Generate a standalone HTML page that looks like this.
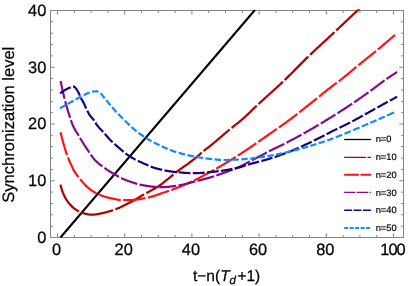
<!DOCTYPE html>
<html><head><meta charset="utf-8"><title>Synchronization level</title>
<style>
html,body{margin:0;padding:0;background:#fff;}
body{width:409px;height:286px;overflow:hidden;position:relative;font-family:"Liberation Sans",sans-serif;}
</style></head><body>
<svg width="409" height="286" viewBox="0 0 409 286" style="position:absolute;left:0;top:0;will-change:transform;text-rendering:geometricPrecision">
<defs><clipPath id="c"><rect x="50.0" y="9.3" width="354.0" height="228.7"/></clipPath></defs>
<g stroke="#848484" stroke-width="1" fill="none" shape-rendering="auto">
<rect x="50.5" y="10.5" width="353.0" height="227.0"/>
<path d="M57.50,237.5 v-4.2 M57.50,10.5 v4.2 M74.30,237.5 v-2.5 M74.30,10.5 v2.5 M91.10,237.5 v-2.5 M91.10,10.5 v2.5 M107.90,237.5 v-2.5 M107.90,10.5 v2.5 M124.70,237.5 v-4.2 M124.70,10.5 v4.2 M141.50,237.5 v-2.5 M141.50,10.5 v2.5 M158.30,237.5 v-2.5 M158.30,10.5 v2.5 M175.10,237.5 v-2.5 M175.10,10.5 v2.5 M191.90,237.5 v-4.2 M191.90,10.5 v4.2 M208.70,237.5 v-2.5 M208.70,10.5 v2.5 M225.50,237.5 v-2.5 M225.50,10.5 v2.5 M242.30,237.5 v-2.5 M242.30,10.5 v2.5 M259.10,237.5 v-4.2 M259.10,10.5 v4.2 M275.90,237.5 v-2.5 M275.90,10.5 v2.5 M292.70,237.5 v-2.5 M292.70,10.5 v2.5 M309.50,237.5 v-2.5 M309.50,10.5 v2.5 M326.30,237.5 v-4.2 M326.30,10.5 v4.2 M343.10,237.5 v-2.5 M343.10,10.5 v2.5 M359.90,237.5 v-2.5 M359.90,10.5 v2.5 M376.70,237.5 v-2.5 M376.70,10.5 v2.5 M393.50,237.5 v-4.2 M393.50,10.5 v4.2 M50.5,237.50 h4.2 M403.5,237.50 h-4.2 M50.5,226.15 h2.5 M403.5,226.15 h-2.5 M50.5,214.80 h2.5 M403.5,214.80 h-2.5 M50.5,203.45 h2.5 M403.5,203.45 h-2.5 M50.5,192.10 h2.5 M403.5,192.10 h-2.5 M50.5,180.75 h4.2 M403.5,180.75 h-4.2 M50.5,169.40 h2.5 M403.5,169.40 h-2.5 M50.5,158.05 h2.5 M403.5,158.05 h-2.5 M50.5,146.70 h2.5 M403.5,146.70 h-2.5 M50.5,135.35 h2.5 M403.5,135.35 h-2.5 M50.5,124.00 h4.2 M403.5,124.00 h-4.2 M50.5,112.65 h2.5 M403.5,112.65 h-2.5 M50.5,101.30 h2.5 M403.5,101.30 h-2.5 M50.5,89.95 h2.5 M403.5,89.95 h-2.5 M50.5,78.60 h2.5 M403.5,78.60 h-2.5 M50.5,67.25 h4.2 M403.5,67.25 h-4.2 M50.5,55.90 h2.5 M403.5,55.90 h-2.5 M50.5,44.55 h2.5 M403.5,44.55 h-2.5 M50.5,33.20 h2.5 M403.5,33.20 h-2.5 M50.5,21.85 h2.5 M403.5,21.85 h-2.5 M50.5,10.50 h4.2 M403.5,10.50 h-4.2" stroke="#868686" stroke-width="1"/>
</g>
<g clip-path="url(#c)" fill="none" stroke-width="2.2" stroke-linecap="butt" stroke-linejoin="round">
<path d="M60.5,237.5 L254.9,10" stroke="#000" stroke-width="2.1"/>
<path d="M60.4,184.6 L60.9,186.4 L61.4,188.2 L61.9,189.8 L62.4,191.3 L62.9,192.7 L63.4,193.9 L63.9,195.1 L64.4,196.1 L64.9,197.1 L65.4,198.1 L65.9,198.9 L66.4,199.7 L66.9,200.4 L67.4,201.1 L67.9,201.8 L68.4,202.5 L68.9,203.1 L69.4,203.7 L69.9,204.3 L70.4,204.9 L70.9,205.4 L71.4,205.9 L71.9,206.4 L72.4,206.9 L72.9,207.3 L73.4,207.8 L73.9,208.2 L74.4,208.6 L74.9,208.9 L75.4,209.3 L75.9,209.6 L76.4,210.0 L76.9,210.3 L77.4,210.6 L77.9,210.9 L78.4,211.2 L78.9,211.5 L79.4,211.8 L79.9,212.0 L80.4,212.2 L80.9,212.4 L81.4,212.6 L81.9,212.7 L82.4,212.9 L82.9,213.0 L83.4,213.2 L83.9,213.3 L84.4,213.5 L84.9,213.6 L85.4,213.7 L85.9,213.9 L86.4,214.0 L86.9,214.1 L87.4,214.2 L87.9,214.3 L88.4,214.4 L88.9,214.5 L89.4,214.5 L89.9,214.6 L90.4,214.6 L90.9,214.7 L91.4,214.7 L91.9,214.7 L92.4,214.7 L92.9,214.7 L93.4,214.7 L93.9,214.6 L94.4,214.6 L94.9,214.5 L95.4,214.5 L95.9,214.4 L96.4,214.3 L96.9,214.2 L97.4,214.1 L97.9,214.1 L98.4,214.0 L98.9,213.9 L99.4,213.8 L99.9,213.7 L100.4,213.5 L100.9,213.4 L101.4,213.3 L101.9,213.2 L102.4,213.1 L102.9,213.0 L103.4,212.9 L103.9,212.8 L104.4,212.7 L104.9,212.6 L105.4,212.5 L105.9,212.3 L106.4,212.2 L106.9,212.1 L107.4,211.9 L107.9,211.8 L108.4,211.6 L108.9,211.5 L109.4,211.3 L109.9,211.2 L110.4,211.0 L110.9,210.9 L111.4,210.7 L111.9,210.5 L112.4,210.4 L112.9,210.2 L113.4,210.0 L113.9,209.8 L114.4,209.7 L114.9,209.5 L115.4,209.3 L115.9,209.1 L116.4,208.9 L116.9,208.7 L117.4,208.5 L117.9,208.3 L118.4,208.1 L118.9,207.9 L119.4,207.7 L119.9,207.4 L120.4,207.2 L120.9,207.0 L121.4,206.8 L121.9,206.5 L122.4,206.3 L122.9,206.0 L123.4,205.8 L123.9,205.6 L124.4,205.3 L124.9,205.1 L125.4,204.8 L125.9,204.6 L126.4,204.3 L126.9,204.1 L127.4,203.8 L127.9,203.6 L128.4,203.3 L128.9,203.1 L129.4,202.8 L129.9,202.6 L130.4,202.3 L130.9,202.0 L131.4,201.8 L131.9,201.5 L132.4,201.2 L132.9,200.9 L133.4,200.7 L133.9,200.4 L134.4,200.1 L134.9,199.8 L135.4,199.5 L135.9,199.2 L136.4,198.9 L136.9,198.6 L137.4,198.3 L137.9,198.0 L138.4,197.7 L138.9,197.4 L139.4,197.1 L139.9,196.8 L140.4,196.5 L140.9,196.2 L141.4,195.9 L141.9,195.6 L142.4,195.3 L142.9,195.0 L143.4,194.7 L143.9,194.5 L144.4,194.2 L144.9,193.9 L145.4,193.6 L145.9,193.3 L146.4,193.1 L146.9,192.8 L147.4,192.5 L147.9,192.2 L148.4,192.0 L148.9,191.7 L149.4,191.4 L149.9,191.2 L150.4,190.9 L150.9,190.6 L151.4,190.4 L151.9,190.1 L152.4,189.8 L152.9,189.6 L153.4,189.3 L153.9,189.0 L154.4,188.7 L154.9,188.4 L155.4,188.2 L155.9,187.9 L156.4,187.6 L156.9,187.3 L157.4,186.9 L157.9,186.6 L158.4,186.3 L158.9,186.0 L159.4,185.6 L159.9,185.3 L160.4,184.9 L160.9,184.5 L161.4,184.2 L161.9,183.8 L162.4,183.4 L162.9,183.0 L163.4,182.6 L163.9,182.2 L164.4,181.8 L164.9,181.4 L165.4,181.0 L165.9,180.6 L166.4,180.2 L166.9,179.8 L167.4,179.4 L167.9,179.0 L168.4,178.6 L168.9,178.2 L169.4,177.8 L169.9,177.4 L170.4,177.0 L170.9,176.6 L171.4,176.2 L171.9,175.8 L172.4,175.4 L172.9,174.9 L173.4,174.5 L173.9,174.1 L174.4,173.7 L174.9,173.3 L175.4,172.9 L175.9,172.5 L176.4,172.1 L176.9,171.7 L177.4,171.3 L177.9,171.0 L178.4,170.6 L178.9,170.2 L179.4,169.8 L179.9,169.5 L180.4,169.1 L180.9,168.8 L181.4,168.4 L181.9,168.0 L182.4,167.7 L182.9,167.3 L183.4,167.0 L183.9,166.6 L184.4,166.3 L184.9,165.9 L185.4,165.6 L185.9,165.2 L186.4,164.9 L186.9,164.5 L187.4,164.2 L187.9,163.8 L188.4,163.4 L188.9,163.1 L189.4,162.7 L189.9,162.3 L190.4,162.0 L190.9,161.6 L191.4,161.2 L191.9,160.8 L192.4,160.5 L192.9,160.1 L193.4,159.7 L193.9,159.3 L194.4,158.9 L194.9,158.5 L195.4,158.1 L195.9,157.6 L196.4,157.2 L196.9,156.8 L197.4,156.4 L197.9,155.9 L198.4,155.5 L198.9,155.1 L199.4,154.6 L199.9,154.2 L200.4,153.8 L200.9,153.3 L201.4,152.9 L201.9,152.5 L202.4,152.1 L202.9,151.6 L203.4,151.2 L203.9,150.8 L204.4,150.4 L204.9,150.0 L205.4,149.6 L205.9,149.2 L206.4,148.8 L206.9,148.4 L207.4,148.1 L207.9,147.7 L208.4,147.3 L208.9,146.9 L209.4,146.5 L209.9,146.1 L210.4,145.7 L210.9,145.3 L211.4,144.9 L211.9,144.5 L212.4,144.1 L212.9,143.7 L213.4,143.3 L213.9,142.8 L214.4,142.4 L214.9,142.0 L215.4,141.6 L215.9,141.2 L216.4,140.8 L216.9,140.3 L217.4,139.9 L217.9,139.5 L218.4,139.1 L218.9,138.6 L219.4,138.2 L219.9,137.8 L220.4,137.3 L220.9,136.9 L221.4,136.5 L221.9,136.1 L222.4,135.6 L222.9,135.2 L223.4,134.8 L223.9,134.4 L224.4,133.9 L224.9,133.5 L225.4,133.1 L225.9,132.7 L226.4,132.2 L226.9,131.8 L227.4,131.4 L227.9,131.0 L228.4,130.5 L228.9,130.1 L229.4,129.7 L229.9,129.3 L230.4,128.9 L230.9,128.5 L231.4,128.1 L231.9,127.7 L232.4,127.3 L232.9,126.9 L233.4,126.5 L233.9,126.1 L234.4,125.7 L234.9,125.3 L235.4,124.9 L235.9,124.5 L236.4,124.1 L236.9,123.7 L237.4,123.4 L237.9,123.0 L238.4,122.6 L238.9,122.2 L239.4,121.8 L239.9,121.3 L240.4,120.9 L240.9,120.5 L241.4,120.1 L241.9,119.7 L242.4,119.2 L242.9,118.8 L243.4,118.3 L243.9,117.9 L244.4,117.4 L244.9,117.0 L245.4,116.5 L245.9,116.0 L246.4,115.6 L246.9,115.1 L247.4,114.6 L247.9,114.2 L248.4,113.7 L248.9,113.2 L249.4,112.7 L249.9,112.3 L250.4,111.8 L250.9,111.3 L251.4,110.8 L251.9,110.3 L252.4,109.8 L252.9,109.4 L253.4,108.9 L253.9,108.4 L254.4,107.9 L254.9,107.4 L255.4,107.0 L255.9,106.5 L256.4,106.0 L256.9,105.5 L257.4,105.1 L257.9,104.6 L258.4,104.1 L258.9,103.7 L259.4,103.2 L259.9,102.8 L260.4,102.3 L260.9,101.8 L261.4,101.4 L261.9,100.9 L262.4,100.5 L262.9,100.0 L263.4,99.6 L263.9,99.1 L264.4,98.6 L264.9,98.2 L265.4,97.7 L265.9,97.3 L266.4,96.8 L266.9,96.4 L267.4,95.9 L267.9,95.5 L268.4,95.0 L268.9,94.6 L269.4,94.1 L269.9,93.7 L270.4,93.2 L270.9,92.8 L271.4,92.3 L271.9,91.9 L272.4,91.4 L272.9,91.0 L273.4,90.5 L273.9,90.0 L274.4,89.6 L274.9,89.1 L275.4,88.7 L275.9,88.2 L276.4,87.8 L276.9,87.3 L277.4,86.9 L277.9,86.4 L278.4,85.9 L278.9,85.5 L279.4,85.0 L279.9,84.5 L280.4,84.1 L280.9,83.6 L281.4,83.1 L281.9,82.7 L282.4,82.2 L282.9,81.7 L283.4,81.3 L283.9,80.8 L284.4,80.3 L284.9,79.8 L285.4,79.4 L285.9,78.9 L286.4,78.4 L286.9,77.9 L287.4,77.4 L287.9,76.9 L288.4,76.4 L288.9,75.9 L289.4,75.4 L289.9,74.9 L290.4,74.5 L290.9,74.0 L291.4,73.5 L291.9,73.0 L292.4,72.5 L292.9,72.0 L293.4,71.5 L293.9,70.9 L294.4,70.4 L294.9,69.9 L295.4,69.4 L295.9,68.9 L296.4,68.4 L296.9,67.9 L297.4,67.4 L297.9,66.9 L298.4,66.4 L298.9,65.9 L299.4,65.4 L299.9,64.9 L300.4,64.4 L300.9,63.9 L301.4,63.4 L301.9,62.9 L302.4,62.4 L302.9,61.9 L303.4,61.4 L303.9,60.9 L304.4,60.4 L304.9,59.9 L305.4,59.4 L305.9,58.9 L306.4,58.4 L306.9,57.9 L307.4,57.4 L307.9,57.0 L308.4,56.5 L308.9,56.0 L309.4,55.5 L309.9,55.0 L310.4,54.5 L310.9,54.1 L311.4,53.6 L311.9,53.1 L312.4,52.6 L312.9,52.2 L313.4,51.7 L313.9,51.2 L314.4,50.8 L314.9,50.3 L315.4,49.8 L315.9,49.3 L316.4,48.9 L316.9,48.4 L317.4,47.9 L317.9,47.5 L318.4,47.0 L318.9,46.6 L319.4,46.1 L319.9,45.6 L320.4,45.2 L320.9,44.7 L321.4,44.2 L321.9,43.8 L322.4,43.3 L322.9,42.8 L323.4,42.4 L323.9,41.9 L324.4,41.5 L324.9,41.0 L325.4,40.5 L325.9,40.1 L326.4,39.6 L326.9,39.2 L327.4,38.7 L327.9,38.2 L328.4,37.8 L328.9,37.3 L329.4,36.9 L329.9,36.4 L330.4,35.9 L330.9,35.5 L331.4,35.0 L331.9,34.5 L332.4,34.1 L332.9,33.6 L333.4,33.1 L333.9,32.7 L334.4,32.2 L334.9,31.7 L335.4,31.3 L335.9,30.8 L336.4,30.3 L336.9,29.9 L337.4,29.4 L337.9,28.9 L338.4,28.5 L338.9,28.0 L339.4,27.5 L339.9,27.0 L340.4,26.6 L340.9,26.1 L341.4,25.6 L341.9,25.2 L342.4,24.7 L342.9,24.2 L343.4,23.7 L343.9,23.3 L344.4,22.8 L344.9,22.3 L345.4,21.9 L345.9,21.4 L346.4,20.9 L346.9,20.4 L347.4,20.0 L347.9,19.5 L348.4,19.0 L348.9,18.6 L349.4,18.1 L349.9,17.6 L350.4,17.1 L350.9,16.7 L351.4,16.2 L351.9,15.7 L352.4,15.2 L352.9,14.8 L353.4,14.3 L353.9,13.8 L354.4,13.3 L354.9,12.9 L355.4,12.4 L355.9,11.9 L356.4,11.5 L356.9,11.0 L357.4,10.5 L357.9,10.0 L358.4,9.6 L358.9,9.1 L359.4,8.7 L359.9,8.2" stroke="#b00000" stroke-dasharray="33.65 2.45 32.96 2.45 32.52 2.45 33.04 2.45 33.42 2.45 33.84 2.45 33.67 2.45 33.12 2.45 33.30 2.45 33.33 2.45 1000.00 0.00"/>
<path d="M60.6,132.3 L61.1,134.4 L61.6,136.5 L62.1,138.5 L62.6,140.4 L63.1,142.2 L63.6,144.0 L64.1,145.8 L64.6,147.5 L65.1,149.1 L65.6,150.7 L66.1,152.3 L66.6,153.8 L67.1,155.2 L67.6,156.6 L68.1,157.9 L68.6,159.1 L69.1,160.3 L69.6,161.4 L70.1,162.5 L70.6,163.6 L71.1,164.7 L71.6,165.7 L72.1,166.8 L72.6,167.9 L73.1,169.0 L73.6,170.0 L74.1,170.9 L74.6,171.7 L75.1,172.5 L75.6,173.2 L76.1,173.9 L76.6,174.6 L77.1,175.3 L77.6,175.9 L78.1,176.6 L78.6,177.2 L79.1,177.8 L79.6,178.4 L80.1,179.0 L80.6,179.7 L81.1,180.3 L81.6,180.9 L82.1,181.5 L82.6,182.1 L83.1,182.7 L83.6,183.2 L84.1,183.8 L84.6,184.3 L85.1,184.9 L85.6,185.4 L86.1,185.9 L86.6,186.4 L87.1,186.9 L87.6,187.3 L88.1,187.7 L88.6,188.1 L89.1,188.5 L89.6,188.9 L90.1,189.3 L90.6,189.7 L91.1,190.0 L91.6,190.4 L92.1,190.7 L92.6,191.1 L93.1,191.4 L93.6,191.7 L94.1,192.0 L94.6,192.3 L95.1,192.6 L95.6,192.9 L96.1,193.2 L96.6,193.4 L97.1,193.7 L97.6,193.9 L98.1,194.1 L98.6,194.4 L99.1,194.6 L99.6,194.8 L100.1,195.0 L100.6,195.2 L101.1,195.4 L101.6,195.6 L102.1,195.8 L102.6,195.9 L103.1,196.1 L103.6,196.3 L104.1,196.5 L104.6,196.6 L105.1,196.8 L105.6,196.9 L106.1,197.1 L106.6,197.2 L107.1,197.3 L107.6,197.5 L108.1,197.6 L108.6,197.7 L109.1,197.9 L109.6,198.0 L110.1,198.1 L110.6,198.2 L111.1,198.3 L111.6,198.4 L112.1,198.5 L112.6,198.6 L113.1,198.7 L113.6,198.8 L114.1,198.9 L114.6,199.0 L115.1,199.1 L115.6,199.2 L116.1,199.3 L116.6,199.4 L117.1,199.5 L117.6,199.6 L118.1,199.7 L118.6,199.9 L119.1,200.0 L119.6,200.0 L120.1,200.1 L120.6,200.2 L121.1,200.2 L121.6,200.2 L122.1,200.2 L122.6,200.2 L123.1,200.2 L123.6,200.2 L124.1,200.2 L124.6,200.2 L125.1,200.2 L125.6,200.2 L126.1,200.2 L126.6,200.2 L127.1,200.2 L127.6,200.1 L128.1,200.1 L128.6,200.1 L129.1,200.1 L129.6,200.1 L130.1,200.1 L130.6,200.1 L131.1,200.1 L131.6,200.0 L132.1,200.0 L132.6,200.0 L133.1,199.9 L133.6,199.9 L134.1,199.9 L134.6,199.8 L135.1,199.7 L135.6,199.7 L136.1,199.6 L136.6,199.6 L137.1,199.5 L137.6,199.4 L138.1,199.4 L138.6,199.3 L139.1,199.2 L139.6,199.1 L140.1,199.0 L140.6,198.9 L141.1,198.9 L141.6,198.8 L142.1,198.7 L142.6,198.6 L143.1,198.5 L143.6,198.4 L144.1,198.3 L144.6,198.2 L145.1,198.1 L145.6,198.0 L146.1,197.9 L146.6,197.8 L147.1,197.7 L147.6,197.6 L148.1,197.5 L148.6,197.4 L149.1,197.3 L149.6,197.2 L150.1,197.0 L150.6,196.9 L151.1,196.8 L151.6,196.6 L152.1,196.5 L152.6,196.3 L153.1,196.2 L153.6,196.0 L154.1,195.9 L154.6,195.7 L155.1,195.5 L155.6,195.4 L156.1,195.2 L156.6,195.0 L157.1,194.9 L157.6,194.7 L158.1,194.5 L158.6,194.3 L159.1,194.2 L159.6,194.0 L160.1,193.8 L160.6,193.6 L161.1,193.5 L161.6,193.3 L162.1,193.1 L162.6,192.9 L163.1,192.8 L163.6,192.6 L164.1,192.4 L164.6,192.3 L165.1,192.1 L165.6,191.9 L166.1,191.8 L166.6,191.6 L167.1,191.4 L167.6,191.3 L168.1,191.1 L168.6,190.9 L169.1,190.7 L169.6,190.6 L170.1,190.4 L170.6,190.2 L171.1,190.0 L171.6,189.9 L172.1,189.7 L172.6,189.5 L173.1,189.3 L173.6,189.1 L174.1,189.0 L174.6,188.8 L175.1,188.6 L175.6,188.4 L176.1,188.2 L176.6,188.0 L177.1,187.8 L177.6,187.6 L178.1,187.4 L178.6,187.3 L179.1,187.1 L179.6,186.9 L180.1,186.7 L180.6,186.5 L181.1,186.3 L181.6,186.0 L182.1,185.8 L182.6,185.6 L183.1,185.4 L183.6,185.2 L184.1,185.0 L184.6,184.8 L185.1,184.6 L185.6,184.3 L186.1,184.1 L186.6,183.9 L187.1,183.7 L187.6,183.4 L188.1,183.2 L188.6,183.0 L189.1,182.7 L189.6,182.5 L190.1,182.3 L190.6,182.1 L191.1,181.8 L191.6,181.6 L192.1,181.3 L192.6,181.1 L193.1,180.9 L193.6,180.6 L194.1,180.4 L194.6,180.1 L195.1,179.9 L195.6,179.7 L196.1,179.4 L196.6,179.2 L197.1,178.9 L197.6,178.7 L198.1,178.4 L198.6,178.2 L199.1,177.9 L199.6,177.7 L200.1,177.4 L200.6,177.1 L201.1,176.9 L201.6,176.6 L202.1,176.4 L202.6,176.1 L203.1,175.8 L203.6,175.6 L204.1,175.3 L204.6,175.0 L205.1,174.8 L205.6,174.5 L206.1,174.2 L206.6,174.0 L207.1,173.7 L207.6,173.4 L208.1,173.1 L208.6,172.9 L209.1,172.6 L209.6,172.3 L210.1,172.1 L210.6,171.8 L211.1,171.5 L211.6,171.2 L212.1,171.0 L212.6,170.7 L213.1,170.4 L213.6,170.1 L214.1,169.9 L214.6,169.6 L215.1,169.3 L215.6,169.0 L216.1,168.8 L216.6,168.5 L217.1,168.2 L217.6,167.9 L218.1,167.6 L218.6,167.3 L219.1,167.1 L219.6,166.8 L220.1,166.5 L220.6,166.2 L221.1,165.9 L221.6,165.6 L222.1,165.3 L222.6,165.0 L223.1,164.7 L223.6,164.4 L224.1,164.1 L224.6,163.8 L225.1,163.5 L225.6,163.2 L226.1,162.9 L226.6,162.6 L227.1,162.3 L227.6,162.0 L228.1,161.7 L228.6,161.4 L229.1,161.1 L229.6,160.8 L230.1,160.5 L230.6,160.2 L231.1,159.9 L231.6,159.6 L232.1,159.2 L232.6,158.9 L233.1,158.6 L233.6,158.3 L234.1,158.0 L234.6,157.7 L235.1,157.3 L235.6,157.0 L236.1,156.7 L236.6,156.4 L237.1,156.1 L237.6,155.7 L238.1,155.4 L238.6,155.1 L239.1,154.8 L239.6,154.5 L240.1,154.1 L240.6,153.8 L241.1,153.5 L241.6,153.2 L242.1,152.8 L242.6,152.5 L243.1,152.2 L243.6,151.8 L244.1,151.5 L244.6,151.2 L245.1,150.9 L245.6,150.5 L246.1,150.2 L246.6,149.8 L247.1,149.5 L247.6,149.2 L248.1,148.8 L248.6,148.5 L249.1,148.2 L249.6,147.8 L250.1,147.5 L250.6,147.2 L251.1,146.8 L251.6,146.5 L252.1,146.1 L252.6,145.8 L253.1,145.5 L253.6,145.1 L254.1,144.8 L254.6,144.4 L255.1,144.1 L255.6,143.7 L256.1,143.4 L256.6,143.1 L257.1,142.7 L257.6,142.4 L258.1,142.0 L258.6,141.7 L259.1,141.3 L259.6,141.0 L260.1,140.6 L260.6,140.3 L261.1,139.9 L261.6,139.6 L262.1,139.2 L262.6,138.9 L263.1,138.5 L263.6,138.2 L264.1,137.8 L264.6,137.5 L265.1,137.1 L265.6,136.8 L266.1,136.4 L266.6,136.1 L267.1,135.7 L267.6,135.4 L268.1,135.0 L268.6,134.7 L269.1,134.3 L269.6,134.0 L270.1,133.6 L270.6,133.3 L271.1,132.9 L271.6,132.6 L272.1,132.2 L272.6,131.9 L273.1,131.5 L273.6,131.2 L274.1,130.8 L274.6,130.5 L275.1,130.1 L275.6,129.8 L276.1,129.4 L276.6,129.1 L277.1,128.7 L277.6,128.4 L278.1,128.0 L278.6,127.7 L279.1,127.3 L279.6,127.0 L280.1,126.6 L280.6,126.3 L281.1,125.9 L281.6,125.6 L282.1,125.2 L282.6,124.9 L283.1,124.5 L283.6,124.1 L284.1,123.8 L284.6,123.4 L285.1,123.1 L285.6,122.7 L286.1,122.4 L286.6,122.0 L287.1,121.6 L287.6,121.3 L288.1,120.9 L288.6,120.5 L289.1,120.2 L289.6,119.8 L290.1,119.4 L290.6,119.1 L291.1,118.7 L291.6,118.3 L292.1,117.9 L292.6,117.5 L293.1,117.2 L293.6,116.8 L294.1,116.4 L294.6,116.0 L295.1,115.6 L295.6,115.2 L296.1,114.9 L296.6,114.5 L297.1,114.1 L297.6,113.7 L298.1,113.3 L298.6,112.9 L299.1,112.5 L299.6,112.1 L300.1,111.7 L300.6,111.3 L301.1,110.9 L301.6,110.6 L302.1,110.2 L302.6,109.8 L303.1,109.4 L303.6,109.0 L304.1,108.6 L304.6,108.2 L305.1,107.8 L305.6,107.4 L306.1,107.0 L306.6,106.6 L307.1,106.2 L307.6,105.8 L308.1,105.4 L308.6,105.0 L309.1,104.6 L309.6,104.2 L310.1,103.8 L310.6,103.4 L311.1,103.0 L311.6,102.6 L312.1,102.2 L312.6,101.8 L313.1,101.4 L313.6,101.0 L314.1,100.6 L314.6,100.2 L315.1,99.8 L315.6,99.4 L316.1,99.0 L316.6,98.6 L317.1,98.2 L317.6,97.8 L318.1,97.4 L318.6,97.0 L319.1,96.6 L319.6,96.2 L320.1,95.8 L320.6,95.4 L321.1,95.0 L321.6,94.6 L322.1,94.1 L322.6,93.7 L323.1,93.3 L323.6,92.9 L324.1,92.5 L324.6,92.1 L325.1,91.7 L325.6,91.3 L326.1,90.9 L326.6,90.5 L327.1,90.1 L327.6,89.7 L328.1,89.3 L328.6,88.9 L329.1,88.5 L329.6,88.2 L330.1,87.8 L330.6,87.4 L331.1,87.0 L331.6,86.6 L332.1,86.2 L332.6,85.8 L333.1,85.5 L333.6,85.1 L334.1,84.7 L334.6,84.4 L335.1,84.0 L335.6,83.6 L336.1,83.3 L336.6,82.9 L337.1,82.5 L337.6,82.2 L338.1,81.8 L338.6,81.4 L339.1,81.1 L339.6,80.7 L340.1,80.3 L340.6,79.9 L341.1,79.5 L341.6,79.1 L342.1,78.7 L342.6,78.3 L343.1,77.9 L343.6,77.5 L344.1,77.1 L344.6,76.7 L345.1,76.3 L345.6,75.9 L346.1,75.5 L346.6,75.1 L347.1,74.7 L347.6,74.2 L348.1,73.8 L348.6,73.4 L349.1,73.0 L349.6,72.6 L350.1,72.1 L350.6,71.7 L351.1,71.3 L351.6,70.9 L352.1,70.5 L352.6,70.0 L353.1,69.6 L353.6,69.2 L354.1,68.8 L354.6,68.3 L355.1,67.9 L355.6,67.5 L356.1,67.1 L356.6,66.7 L357.1,66.3 L357.6,65.9 L358.1,65.4 L358.6,65.0 L359.1,64.6 L359.6,64.2 L360.1,63.8 L360.6,63.4 L361.1,63.0 L361.6,62.6 L362.1,62.2 L362.6,61.8 L363.1,61.4 L363.6,61.0 L364.1,60.6 L364.6,60.2 L365.1,59.8 L365.6,59.4 L366.1,59.0 L366.6,58.6 L367.1,58.2 L367.6,57.8 L368.1,57.4 L368.6,57.0 L369.1,56.6 L369.6,56.2 L370.1,55.8 L370.6,55.4 L371.1,55.0 L371.6,54.6 L372.1,54.2 L372.6,53.8 L373.1,53.4 L373.6,53.0 L374.1,52.6 L374.6,52.2 L375.1,51.8 L375.6,51.4 L376.1,51.0 L376.6,50.6 L377.1,50.2 L377.6,49.8 L378.1,49.3 L378.6,48.9 L379.1,48.5 L379.6,48.1 L380.1,47.7 L380.6,47.2 L381.1,46.8 L381.6,46.4 L382.1,46.0 L382.6,45.6 L383.1,45.1 L383.6,44.7 L384.1,44.3 L384.6,43.8 L385.1,43.4 L385.6,43.0 L386.1,42.6 L386.6,42.1 L387.1,41.7 L387.6,41.3 L388.1,40.8 L388.6,40.4 L389.1,40.0 L389.6,39.6 L390.1,39.1 L390.6,38.7 L391.1,38.3 L391.6,37.8 L392.1,37.4 L392.6,37.0 L393.1,36.5 L393.6,36.1 L394.1,35.7 L394.6,35.3 L395.1,34.8 L395.6,34.4 L396.1,34.0 L396.6,33.5" stroke="#ff1414" stroke-dasharray="23.60 2.45 22.69 2.45 22.37 2.45 22.44 2.45 22.51 2.45 22.24 2.45 22.35 2.45 22.71 2.45 22.69 2.45 22.44 2.45 22.71 2.45 22.91 2.45 22.72 2.45 22.67 2.45 22.83 2.45 22.72 2.45 22.56 2.45 1000.00 0.00"/>
<path d="M60.6,81.0 L61.1,83.5 L61.6,85.8 L62.1,88.2 L62.6,90.5 L63.1,92.7 L63.6,94.8 L64.1,96.9 L64.6,98.9 L65.1,100.9 L65.6,102.7 L66.1,104.6 L66.6,106.3 L67.1,108.0 L67.6,109.7 L68.1,111.4 L68.6,113.0 L69.1,114.6 L69.6,116.2 L70.1,117.8 L70.6,119.3 L71.1,120.8 L71.6,122.2 L72.1,123.6 L72.6,124.8 L73.1,125.9 L73.6,126.9 L74.1,127.9 L74.6,128.9 L75.1,129.8 L75.6,130.6 L76.1,131.5 L76.6,132.3 L77.1,133.1 L77.6,133.9 L78.1,134.7 L78.6,135.5 L79.1,136.4 L79.6,137.2 L80.1,138.0 L80.6,138.9 L81.1,139.7 L81.6,140.5 L82.1,141.3 L82.6,142.1 L83.1,143.0 L83.6,143.8 L84.1,144.6 L84.6,145.3 L85.1,146.1 L85.6,146.9 L86.1,147.7 L86.6,148.5 L87.1,149.2 L87.6,150.0 L88.1,150.7 L88.6,151.4 L89.1,152.2 L89.6,152.9 L90.1,153.6 L90.6,154.3 L91.1,155.1 L91.6,155.8 L92.1,156.5 L92.6,157.2 L93.1,157.9 L93.6,158.5 L94.1,159.1 L94.6,159.7 L95.1,160.2 L95.6,160.7 L96.1,161.2 L96.6,161.7 L97.1,162.1 L97.6,162.6 L98.1,163.0 L98.6,163.4 L99.1,163.9 L99.6,164.3 L100.1,164.7 L100.6,165.0 L101.1,165.4 L101.6,165.8 L102.1,166.2 L102.6,166.5 L103.1,166.9 L103.6,167.3 L104.1,167.6 L104.6,168.0 L105.1,168.3 L105.6,168.7 L106.1,169.0 L106.6,169.4 L107.1,169.7 L107.6,170.1 L108.1,170.4 L108.6,170.7 L109.1,171.0 L109.6,171.4 L110.1,171.7 L110.6,172.0 L111.1,172.3 L111.6,172.6 L112.1,172.9 L112.6,173.2 L113.1,173.5 L113.6,173.8 L114.1,174.1 L114.6,174.4 L115.1,174.7 L115.6,175.0 L116.1,175.3 L116.6,175.5 L117.1,175.8 L117.6,176.1 L118.1,176.4 L118.6,176.7 L119.1,176.9 L119.6,177.2 L120.1,177.5 L120.6,177.7 L121.1,178.0 L121.6,178.2 L122.1,178.5 L122.6,178.7 L123.1,178.9 L123.6,179.1 L124.1,179.4 L124.6,179.6 L125.1,179.8 L125.6,180.0 L126.1,180.2 L126.6,180.4 L127.1,180.6 L127.6,180.8 L128.1,180.9 L128.6,181.1 L129.1,181.3 L129.6,181.5 L130.1,181.6 L130.6,181.8 L131.1,182.0 L131.6,182.1 L132.1,182.3 L132.6,182.5 L133.1,182.6 L133.6,182.8 L134.1,183.0 L134.6,183.1 L135.1,183.3 L135.6,183.5 L136.1,183.6 L136.6,183.8 L137.1,183.9 L137.6,184.1 L138.1,184.2 L138.6,184.3 L139.1,184.5 L139.6,184.6 L140.1,184.7 L140.6,184.8 L141.1,184.9 L141.6,185.0 L142.1,185.1 L142.6,185.2 L143.1,185.3 L143.6,185.4 L144.1,185.4 L144.6,185.5 L145.1,185.6 L145.6,185.7 L146.1,185.8 L146.6,185.8 L147.1,185.9 L147.6,186.0 L148.1,186.1 L148.6,186.1 L149.1,186.2 L149.6,186.3 L150.1,186.3 L150.6,186.4 L151.1,186.5 L151.6,186.5 L152.1,186.6 L152.6,186.6 L153.1,186.7 L153.6,186.8 L154.1,186.8 L154.6,186.8 L155.1,186.9 L155.6,186.9 L156.1,187.0 L156.6,187.0 L157.1,187.1 L157.6,187.1 L158.1,187.1 L158.6,187.1 L159.1,187.2 L159.6,187.2 L160.1,187.2 L160.6,187.2 L161.1,187.2 L161.6,187.2 L162.1,187.2 L162.6,187.2 L163.1,187.2 L163.6,187.2 L164.1,187.1 L164.6,187.1 L165.1,187.1 L165.6,187.1 L166.1,187.0 L166.6,187.0 L167.1,186.9 L167.6,186.9 L168.1,186.9 L168.6,186.8 L169.1,186.7 L169.6,186.7 L170.1,186.6 L170.6,186.6 L171.1,186.5 L171.6,186.4 L172.1,186.4 L172.6,186.3 L173.1,186.2 L173.6,186.2 L174.1,186.1 L174.6,186.0 L175.1,186.0 L175.6,185.9 L176.1,185.8 L176.6,185.7 L177.1,185.6 L177.6,185.6 L178.1,185.5 L178.6,185.4 L179.1,185.3 L179.6,185.3 L180.1,185.2 L180.6,185.1 L181.1,185.0 L181.6,184.9 L182.1,184.8 L182.6,184.7 L183.1,184.6 L183.6,184.5 L184.1,184.4 L184.6,184.3 L185.1,184.1 L185.6,184.0 L186.1,183.9 L186.6,183.7 L187.1,183.6 L187.6,183.5 L188.1,183.3 L188.6,183.2 L189.1,183.0 L189.6,182.9 L190.1,182.8 L190.6,182.6 L191.1,182.5 L191.6,182.3 L192.1,182.2 L192.6,182.1 L193.1,181.9 L193.6,181.8 L194.1,181.7 L194.6,181.5 L195.1,181.4 L195.6,181.3 L196.1,181.1 L196.6,181.0 L197.1,180.9 L197.6,180.8 L198.1,180.6 L198.6,180.5 L199.1,180.4 L199.6,180.3 L200.1,180.1 L200.6,180.0 L201.1,179.9 L201.6,179.8 L202.1,179.6 L202.6,179.5 L203.1,179.4 L203.6,179.3 L204.1,179.1 L204.6,179.0 L205.1,178.9 L205.6,178.7 L206.1,178.6 L206.6,178.5 L207.1,178.3 L207.6,178.2 L208.1,178.0 L208.6,177.9 L209.1,177.8 L209.6,177.6 L210.1,177.5 L210.6,177.3 L211.1,177.2 L211.6,177.0 L212.1,176.9 L212.6,176.7 L213.1,176.5 L213.6,176.4 L214.1,176.2 L214.6,176.1 L215.1,175.9 L215.6,175.7 L216.1,175.6 L216.6,175.4 L217.1,175.2 L217.6,175.0 L218.1,174.9 L218.6,174.7 L219.1,174.5 L219.6,174.4 L220.1,174.2 L220.6,174.0 L221.1,173.8 L221.6,173.7 L222.1,173.5 L222.6,173.3 L223.1,173.1 L223.6,172.9 L224.1,172.8 L224.6,172.6 L225.1,172.4 L225.6,172.2 L226.1,172.0 L226.6,171.9 L227.1,171.7 L227.6,171.5 L228.1,171.3 L228.6,171.1 L229.1,171.0 L229.6,170.8 L230.1,170.6 L230.6,170.4 L231.1,170.2 L231.6,170.0 L232.1,169.9 L232.6,169.7 L233.1,169.5 L233.6,169.3 L234.1,169.1 L234.6,168.9 L235.1,168.7 L235.6,168.5 L236.1,168.3 L236.6,168.1 L237.1,167.9 L237.6,167.7 L238.1,167.4 L238.6,167.2 L239.1,167.0 L239.6,166.8 L240.1,166.6 L240.6,166.3 L241.1,166.1 L241.6,165.8 L242.1,165.6 L242.6,165.3 L243.1,165.1 L243.6,164.8 L244.1,164.5 L244.6,164.2 L245.1,164.0 L245.6,163.7 L246.1,163.4 L246.6,163.1 L247.1,162.9 L247.6,162.6 L248.1,162.3 L248.6,162.1 L249.1,161.8 L249.6,161.6 L250.1,161.3 L250.6,161.0 L251.1,160.8 L251.6,160.5 L252.1,160.2 L252.6,160.0 L253.1,159.7 L253.6,159.4 L254.1,159.2 L254.6,158.9 L255.1,158.7 L255.6,158.4 L256.1,158.1 L256.6,157.9 L257.1,157.6 L257.6,157.3 L258.1,157.1 L258.6,156.8 L259.1,156.5 L259.6,156.3 L260.1,156.0 L260.6,155.8 L261.1,155.5 L261.6,155.2 L262.1,155.0 L262.6,154.7 L263.1,154.4 L263.6,154.2 L264.1,153.9 L264.6,153.7 L265.1,153.4 L265.6,153.1 L266.1,152.9 L266.6,152.6 L267.1,152.4 L267.6,152.1 L268.1,151.9 L268.6,151.6 L269.1,151.3 L269.6,151.1 L270.1,150.8 L270.6,150.6 L271.1,150.3 L271.6,150.1 L272.1,149.8 L272.6,149.6 L273.1,149.3 L273.6,149.1 L274.1,148.8 L274.6,148.6 L275.1,148.3 L275.6,148.1 L276.1,147.9 L276.6,147.6 L277.1,147.4 L277.6,147.1 L278.1,146.9 L278.6,146.6 L279.1,146.4 L279.6,146.1 L280.1,145.9 L280.6,145.6 L281.1,145.4 L281.6,145.2 L282.1,144.9 L282.6,144.7 L283.1,144.4 L283.6,144.2 L284.1,143.9 L284.6,143.7 L285.1,143.4 L285.6,143.2 L286.1,142.9 L286.6,142.7 L287.1,142.4 L287.6,142.1 L288.1,141.9 L288.6,141.6 L289.1,141.4 L289.6,141.1 L290.1,140.8 L290.6,140.6 L291.1,140.3 L291.6,140.1 L292.1,139.8 L292.6,139.5 L293.1,139.3 L293.6,139.0 L294.1,138.7 L294.6,138.4 L295.1,138.2 L295.6,137.9 L296.1,137.6 L296.6,137.4 L297.1,137.1 L297.6,136.8 L298.1,136.5 L298.6,136.3 L299.1,136.0 L299.6,135.7 L300.1,135.4 L300.6,135.2 L301.1,134.9 L301.6,134.6 L302.1,134.3 L302.6,134.1 L303.1,133.8 L303.6,133.5 L304.1,133.2 L304.6,132.9 L305.1,132.7 L305.6,132.4 L306.1,132.1 L306.6,131.8 L307.1,131.5 L307.6,131.2 L308.1,131.0 L308.6,130.7 L309.1,130.4 L309.6,130.1 L310.1,129.8 L310.6,129.5 L311.1,129.2 L311.6,129.0 L312.1,128.7 L312.6,128.4 L313.1,128.1 L313.6,127.8 L314.1,127.5 L314.6,127.2 L315.1,126.9 L315.6,126.6 L316.1,126.3 L316.6,126.0 L317.1,125.7 L317.6,125.5 L318.1,125.2 L318.6,124.9 L319.1,124.6 L319.6,124.3 L320.1,124.0 L320.6,123.7 L321.1,123.4 L321.6,123.1 L322.1,122.8 L322.6,122.5 L323.1,122.2 L323.6,121.9 L324.1,121.6 L324.6,121.3 L325.1,120.9 L325.6,120.6 L326.1,120.3 L326.6,120.0 L327.1,119.7 L327.6,119.4 L328.1,119.1 L328.6,118.8 L329.1,118.5 L329.6,118.2 L330.1,117.9 L330.6,117.6 L331.1,117.3 L331.6,116.9 L332.1,116.6 L332.6,116.3 L333.1,116.0 L333.6,115.7 L334.1,115.4 L334.6,115.1 L335.1,114.8 L335.6,114.4 L336.1,114.1 L336.6,113.8 L337.1,113.5 L337.6,113.2 L338.1,112.9 L338.6,112.5 L339.1,112.2 L339.6,111.9 L340.1,111.6 L340.6,111.3 L341.1,110.9 L341.6,110.6 L342.1,110.3 L342.6,110.0 L343.1,109.6 L343.6,109.3 L344.1,109.0 L344.6,108.7 L345.1,108.3 L345.6,108.0 L346.1,107.7 L346.6,107.4 L347.1,107.0 L347.6,106.7 L348.1,106.4 L348.6,106.0 L349.1,105.7 L349.6,105.4 L350.1,105.0 L350.6,104.7 L351.1,104.4 L351.6,104.0 L352.1,103.7 L352.6,103.4 L353.1,103.0 L353.6,102.7 L354.1,102.4 L354.6,102.0 L355.1,101.7 L355.6,101.3 L356.1,101.0 L356.6,100.7 L357.1,100.3 L357.6,100.0 L358.1,99.6 L358.6,99.3 L359.1,98.9 L359.6,98.6 L360.1,98.2 L360.6,97.9 L361.1,97.5 L361.6,97.2 L362.1,96.8 L362.6,96.5 L363.1,96.1 L363.6,95.8 L364.1,95.4 L364.6,95.1 L365.1,94.7 L365.6,94.4 L366.1,94.0 L366.6,93.6 L367.1,93.3 L367.6,92.9 L368.1,92.6 L368.6,92.2 L369.1,91.9 L369.6,91.5 L370.1,91.1 L370.6,90.8 L371.1,90.4 L371.6,90.0 L372.1,89.7 L372.6,89.3 L373.1,88.9 L373.6,88.6 L374.1,88.2 L374.6,87.8 L375.1,87.4 L375.6,87.1 L376.1,86.7 L376.6,86.3 L377.1,85.9 L377.6,85.6 L378.1,85.2 L378.6,84.8 L379.1,84.4 L379.6,84.1 L380.1,83.7 L380.6,83.3 L381.1,82.9 L381.6,82.6 L382.1,82.2 L382.6,81.8 L383.1,81.5 L383.6,81.1 L384.1,80.7 L384.6,80.4 L385.1,80.0 L385.6,79.7 L386.1,79.3 L386.6,79.0 L387.1,78.6 L387.6,78.3 L388.1,77.9 L388.6,77.6 L389.1,77.2 L389.6,76.9 L390.1,76.6 L390.6,76.2 L391.1,75.9 L391.6,75.6 L392.1,75.2 L392.6,74.9 L393.1,74.6 L393.6,74.3 L394.1,73.9 L394.6,73.6 L395.1,73.3 L395.6,73.0 L396.1,72.6 L396.6,72.3 L397.1,72.0" stroke="#870a8c" stroke-dasharray="18.15 2.45 17.39 2.45 17.66 2.45 17.41 2.45 16.75 2.45 17.13 2.45 17.19 2.45 17.30 2.45 17.27 2.45 17.16 2.45 17.11 2.45 17.18 2.45 16.81 2.45 16.94 2.45 17.05 2.45 17.09 2.45 17.35 2.45 17.25 2.45 17.56 2.45 17.52 2.45 17.54 2.45 1000.00 0.00"/>
<path d="M60.1,93.4 L60.6,93.0 L61.1,92.6 L61.6,92.3 L62.1,91.9 L62.6,91.6 L63.1,91.2 L63.6,90.9 L64.1,90.6 L64.6,90.3 L65.1,90.0 L65.6,89.7 L66.1,89.4 L66.6,89.1 L67.1,88.9 L67.6,88.6 L68.1,88.4 L68.6,88.1 L69.1,87.9 L69.6,87.7 L70.1,87.5 L70.6,87.2 L71.1,87.0 L71.6,86.8 L72.1,86.6 L72.6,86.6 L73.1,86.6 L73.6,86.6 L74.1,86.7 L74.6,87.0 L75.1,87.5 L75.6,88.1 L76.1,88.7 L76.6,89.4 L77.1,90.1 L77.6,91.0 L78.1,91.8 L78.6,92.8 L79.1,93.9 L79.6,95.1 L80.1,96.3 L80.6,97.4 L81.1,98.4 L81.6,99.3 L82.1,100.1 L82.6,101.0 L83.1,101.9 L83.6,102.8 L84.1,103.8 L84.6,104.9 L85.1,106.1 L85.6,107.2 L86.1,108.3 L86.6,109.4 L87.1,110.4 L87.6,111.4 L88.1,112.3 L88.6,113.2 L89.1,114.1 L89.6,114.9 L90.1,115.6 L90.6,116.3 L91.1,116.9 L91.6,117.5 L92.1,118.1 L92.6,118.6 L93.1,119.2 L93.6,119.8 L94.1,120.5 L94.6,121.3 L95.1,122.1 L95.6,122.9 L96.1,123.8 L96.6,124.6 L97.1,125.3 L97.6,125.9 L98.1,126.5 L98.6,127.1 L99.1,127.7 L99.6,128.2 L100.1,128.7 L100.6,129.2 L101.1,129.8 L101.6,130.3 L102.1,130.8 L102.6,131.3 L103.1,131.9 L103.6,132.4 L104.1,133.0 L104.6,133.6 L105.1,134.1 L105.6,134.7 L106.1,135.3 L106.6,135.9 L107.1,136.5 L107.6,137.1 L108.1,137.6 L108.6,138.2 L109.1,138.8 L109.6,139.3 L110.1,139.8 L110.6,140.3 L111.1,140.8 L111.6,141.3 L112.1,141.8 L112.6,142.2 L113.1,142.7 L113.6,143.1 L114.1,143.6 L114.6,144.0 L115.1,144.5 L115.6,144.9 L116.1,145.4 L116.6,145.8 L117.1,146.2 L117.6,146.6 L118.1,147.1 L118.6,147.5 L119.1,147.9 L119.6,148.4 L120.1,148.8 L120.6,149.2 L121.1,149.7 L121.6,150.1 L122.1,150.5 L122.6,150.9 L123.1,151.4 L123.6,151.8 L124.1,152.2 L124.6,152.6 L125.1,153.0 L125.6,153.4 L126.1,153.8 L126.6,154.1 L127.1,154.5 L127.6,154.9 L128.1,155.2 L128.6,155.6 L129.1,155.9 L129.6,156.2 L130.1,156.6 L130.6,156.9 L131.1,157.2 L131.6,157.5 L132.1,157.8 L132.6,158.1 L133.1,158.3 L133.6,158.6 L134.1,158.9 L134.6,159.2 L135.1,159.4 L135.6,159.7 L136.1,159.9 L136.6,160.2 L137.1,160.4 L137.6,160.7 L138.1,160.9 L138.6,161.2 L139.1,161.4 L139.6,161.6 L140.1,161.9 L140.6,162.1 L141.1,162.3 L141.6,162.6 L142.1,162.8 L142.6,163.0 L143.1,163.2 L143.6,163.4 L144.1,163.7 L144.6,163.9 L145.1,164.1 L145.6,164.3 L146.1,164.6 L146.6,164.8 L147.1,165.0 L147.6,165.2 L148.1,165.4 L148.6,165.6 L149.1,165.9 L149.6,166.1 L150.1,166.3 L150.6,166.5 L151.1,166.7 L151.6,166.9 L152.1,167.1 L152.6,167.2 L153.1,167.4 L153.6,167.6 L154.1,167.8 L154.6,167.9 L155.1,168.1 L155.6,168.2 L156.1,168.4 L156.6,168.5 L157.1,168.6 L157.6,168.8 L158.1,168.9 L158.6,169.0 L159.1,169.1 L159.6,169.3 L160.1,169.4 L160.6,169.5 L161.1,169.6 L161.6,169.7 L162.1,169.8 L162.6,169.9 L163.1,170.0 L163.6,170.2 L164.1,170.3 L164.6,170.4 L165.1,170.5 L165.6,170.6 L166.1,170.7 L166.6,170.8 L167.1,170.8 L167.6,170.9 L168.1,171.0 L168.6,171.1 L169.1,171.2 L169.6,171.3 L170.1,171.3 L170.6,171.4 L171.1,171.5 L171.6,171.6 L172.1,171.6 L172.6,171.7 L173.1,171.8 L173.6,171.8 L174.1,171.9 L174.6,171.9 L175.1,172.0 L175.6,172.0 L176.1,172.1 L176.6,172.1 L177.1,172.2 L177.6,172.2 L178.1,172.3 L178.6,172.3 L179.1,172.4 L179.6,172.4 L180.1,172.4 L180.6,172.5 L181.1,172.5 L181.6,172.6 L182.1,172.6 L182.6,172.6 L183.1,172.7 L183.6,172.7 L184.1,172.8 L184.6,172.8 L185.1,172.8 L185.6,172.9 L186.1,172.9 L186.6,172.9 L187.1,173.0 L187.6,173.0 L188.1,173.0 L188.6,173.0 L189.1,173.1 L189.6,173.1 L190.1,173.1 L190.6,173.1 L191.1,173.1 L191.6,173.2 L192.1,173.2 L192.6,173.2 L193.1,173.2 L193.6,173.2 L194.1,173.2 L194.6,173.2 L195.1,173.2 L195.6,173.2 L196.1,173.2 L196.6,173.2 L197.1,173.2 L197.6,173.1 L198.1,173.1 L198.6,173.1 L199.1,173.1 L199.6,173.0 L200.1,173.0 L200.6,173.0 L201.1,172.9 L201.6,172.9 L202.1,172.9 L202.6,172.8 L203.1,172.8 L203.6,172.7 L204.1,172.7 L204.6,172.6 L205.1,172.6 L205.6,172.5 L206.1,172.5 L206.6,172.4 L207.1,172.4 L207.6,172.4 L208.1,172.3 L208.6,172.3 L209.1,172.2 L209.6,172.2 L210.1,172.1 L210.6,172.1 L211.1,172.0 L211.6,172.0 L212.1,171.9 L212.6,171.9 L213.1,171.8 L213.6,171.8 L214.1,171.7 L214.6,171.7 L215.1,171.6 L215.6,171.5 L216.1,171.5 L216.6,171.4 L217.1,171.4 L217.6,171.3 L218.1,171.2 L218.6,171.2 L219.1,171.1 L219.6,171.0 L220.1,171.0 L220.6,170.9 L221.1,170.8 L221.6,170.8 L222.1,170.7 L222.6,170.6 L223.1,170.5 L223.6,170.5 L224.1,170.4 L224.6,170.3 L225.1,170.2 L225.6,170.2 L226.1,170.1 L226.6,170.0 L227.1,169.9 L227.6,169.8 L228.1,169.7 L228.6,169.6 L229.1,169.6 L229.6,169.5 L230.1,169.4 L230.6,169.3 L231.1,169.2 L231.6,169.1 L232.1,169.0 L232.6,168.9 L233.1,168.8 L233.6,168.7 L234.1,168.6 L234.6,168.5 L235.1,168.4 L235.6,168.2 L236.1,168.1 L236.6,168.0 L237.1,167.9 L237.6,167.8 L238.1,167.7 L238.6,167.5 L239.1,167.4 L239.6,167.3 L240.1,167.2 L240.6,167.0 L241.1,166.9 L241.6,166.8 L242.1,166.6 L242.6,166.4 L243.1,166.3 L243.6,166.1 L244.1,165.9 L244.6,165.8 L245.1,165.6 L245.6,165.4 L246.1,165.2 L246.6,165.1 L247.1,164.9 L247.6,164.8 L248.1,164.6 L248.6,164.5 L249.1,164.3 L249.6,164.2 L250.1,164.0 L250.6,163.9 L251.1,163.7 L251.6,163.6 L252.1,163.5 L252.6,163.3 L253.1,163.2 L253.6,163.1 L254.1,162.9 L254.6,162.8 L255.1,162.7 L255.6,162.5 L256.1,162.4 L256.6,162.3 L257.1,162.1 L257.6,162.0 L258.1,161.9 L258.6,161.7 L259.1,161.6 L259.6,161.5 L260.1,161.4 L260.6,161.2 L261.1,161.1 L261.6,161.0 L262.1,160.8 L262.6,160.7 L263.1,160.5 L263.6,160.4 L264.1,160.3 L264.6,160.1 L265.1,160.0 L265.6,159.9 L266.1,159.7 L266.6,159.6 L267.1,159.4 L267.6,159.3 L268.1,159.1 L268.6,159.0 L269.1,158.8 L269.6,158.7 L270.1,158.5 L270.6,158.3 L271.1,158.2 L271.6,158.0 L272.1,157.9 L272.6,157.7 L273.1,157.5 L273.6,157.4 L274.1,157.2 L274.6,157.0 L275.1,156.9 L275.6,156.7 L276.1,156.5 L276.6,156.4 L277.1,156.2 L277.6,156.0 L278.1,155.8 L278.6,155.7 L279.1,155.5 L279.6,155.3 L280.1,155.1 L280.6,155.0 L281.1,154.8 L281.6,154.6 L282.1,154.4 L282.6,154.2 L283.1,154.1 L283.6,153.9 L284.1,153.7 L284.6,153.5 L285.1,153.3 L285.6,153.1 L286.1,152.9 L286.6,152.7 L287.1,152.6 L287.6,152.4 L288.1,152.2 L288.6,152.0 L289.1,151.8 L289.6,151.6 L290.1,151.4 L290.6,151.2 L291.1,151.0 L291.6,150.8 L292.1,150.6 L292.6,150.4 L293.1,150.2 L293.6,150.0 L294.1,149.7 L294.6,149.5 L295.1,149.3 L295.6,149.1 L296.1,148.9 L296.6,148.7 L297.1,148.5 L297.6,148.2 L298.1,148.0 L298.6,147.8 L299.1,147.6 L299.6,147.3 L300.1,147.1 L300.6,146.9 L301.1,146.7 L301.6,146.4 L302.1,146.2 L302.6,146.0 L303.1,145.8 L303.6,145.5 L304.1,145.3 L304.6,145.1 L305.1,144.8 L305.6,144.6 L306.1,144.4 L306.6,144.1 L307.1,143.9 L307.6,143.6 L308.1,143.4 L308.6,143.2 L309.1,142.9 L309.6,142.7 L310.1,142.5 L310.6,142.2 L311.1,142.0 L311.6,141.7 L312.1,141.5 L312.6,141.3 L313.1,141.0 L313.6,140.8 L314.1,140.5 L314.6,140.3 L315.1,140.0 L315.6,139.8 L316.1,139.6 L316.6,139.3 L317.1,139.1 L317.6,138.8 L318.1,138.6 L318.6,138.3 L319.1,138.1 L319.6,137.8 L320.1,137.6 L320.6,137.3 L321.1,137.0 L321.6,136.8 L322.1,136.5 L322.6,136.3 L323.1,136.0 L323.6,135.7 L324.1,135.5 L324.6,135.2 L325.1,135.0 L325.6,134.7 L326.1,134.4 L326.6,134.2 L327.1,133.9 L327.6,133.7 L328.1,133.4 L328.6,133.1 L329.1,132.9 L329.6,132.6 L330.1,132.4 L330.6,132.1 L331.1,131.9 L331.6,131.6 L332.1,131.3 L332.6,131.1 L333.1,130.8 L333.6,130.6 L334.1,130.4 L334.6,130.1 L335.1,129.9 L335.6,129.6 L336.1,129.4 L336.6,129.1 L337.1,128.9 L337.6,128.6 L338.1,128.4 L338.6,128.1 L339.1,127.9 L339.6,127.7 L340.1,127.4 L340.6,127.2 L341.1,126.9 L341.6,126.7 L342.1,126.4 L342.6,126.2 L343.1,126.0 L343.6,125.7 L344.1,125.5 L344.6,125.2 L345.1,125.0 L345.6,124.7 L346.1,124.5 L346.6,124.2 L347.1,124.0 L347.6,123.8 L348.1,123.5 L348.6,123.3 L349.1,123.0 L349.6,122.8 L350.1,122.5 L350.6,122.2 L351.1,122.0 L351.6,121.7 L352.1,121.5 L352.6,121.2 L353.1,120.9 L353.6,120.7 L354.1,120.4 L354.6,120.1 L355.1,119.9 L355.6,119.6 L356.1,119.3 L356.6,119.1 L357.1,118.8 L357.6,118.5 L358.1,118.2 L358.6,117.9 L359.1,117.7 L359.6,117.4 L360.1,117.1 L360.6,116.8 L361.1,116.5 L361.6,116.3 L362.1,116.0 L362.6,115.7 L363.1,115.4 L363.6,115.2 L364.1,114.9 L364.6,114.6 L365.1,114.3 L365.6,114.1 L366.1,113.8 L366.6,113.5 L367.1,113.2 L367.6,112.9 L368.1,112.7 L368.6,112.4 L369.1,112.1 L369.6,111.8 L370.1,111.6 L370.6,111.3 L371.1,111.0 L371.6,110.7 L372.1,110.5 L372.6,110.2 L373.1,109.9 L373.6,109.6 L374.1,109.3 L374.6,109.1 L375.1,108.8 L375.6,108.5 L376.1,108.2 L376.6,108.0 L377.1,107.7 L377.6,107.4 L378.1,107.1 L378.6,106.9 L379.1,106.6 L379.6,106.3 L380.1,106.0 L380.6,105.7 L381.1,105.5 L381.6,105.2 L382.1,104.9 L382.6,104.6 L383.1,104.3 L383.6,104.1 L384.1,103.8 L384.6,103.5 L385.1,103.2 L385.6,103.0 L386.1,102.7 L386.6,102.4 L387.1,102.1 L387.6,101.9 L388.1,101.6 L388.6,101.3 L389.1,101.0 L389.6,100.8 L390.1,100.5 L390.6,100.2 L391.1,100.0 L391.6,99.7 L392.1,99.4 L392.6,99.2 L393.1,98.9 L393.6,98.6 L394.1,98.4 L394.6,98.1 L395.1,97.8 L395.6,97.6 L396.1,97.3 L396.6,97.1 L397.1,96.8" stroke="#1a0085" stroke-dasharray="12.31 2.45 11.87 2.45 11.87 2.45 12.13 2.45 12.07 2.45 11.59 2.45 12.12 2.45 12.02 2.45 11.75 2.45 11.90 2.45 11.96 2.45 11.76 2.45 11.85 2.45 11.69 2.45 11.54 2.45 11.45 2.45 11.37 2.45 11.46 2.45 11.67 2.45 11.73 2.45 11.87 2.45 11.92 2.45 11.91 2.45 11.96 2.45 11.97 2.45 11.86 2.45 11.87 2.45 1000.00 0.00"/>
<path d="M60.0,108.4 L60.5,108.1 L61.0,107.8 L61.5,107.5 L62.0,107.2 L62.5,106.9 L63.0,106.6 L63.5,106.3 L64.0,106.1 L64.5,105.8 L65.0,105.5 L65.5,105.2 L66.0,104.9 L66.5,104.6 L67.0,104.3 L67.5,104.0 L68.0,103.7 L68.5,103.5 L69.0,103.2 L69.5,102.9 L70.0,102.6 L70.5,102.3 L71.0,102.1 L71.5,101.8 L72.0,101.5 L72.5,101.2 L73.0,100.9 L73.5,100.7 L74.0,100.4 L74.5,100.1 L75.0,99.8 L75.5,99.5 L76.0,99.2 L76.5,99.0 L77.0,98.7 L77.5,98.4 L78.0,98.1 L78.5,97.9 L79.0,97.6 L79.5,97.3 L80.0,97.1 L80.5,96.8 L81.0,96.5 L81.5,96.3 L82.0,96.0 L82.5,95.8 L83.0,95.5 L83.5,95.3 L84.0,95.1 L84.5,94.8 L85.0,94.6 L85.5,94.3 L86.0,94.1 L86.5,93.8 L87.0,93.6 L87.5,93.3 L88.0,93.1 L88.5,92.9 L89.0,92.7 L89.5,92.5 L90.0,92.3 L90.5,92.1 L91.0,92.0 L91.5,91.9 L92.0,91.8 L92.5,91.7 L93.0,91.6 L93.5,91.5 L94.0,91.5 L94.5,91.4 L95.0,91.4 L95.5,91.3 L96.0,91.3 L96.5,91.3 L97.0,91.4 L97.5,91.5 L98.0,91.7 L98.5,92.0 L99.0,92.3 L99.5,92.6 L100.0,92.9 L100.5,93.3 L101.0,93.7 L101.5,94.2 L102.0,94.8 L102.5,95.4 L103.0,96.1 L103.5,96.7 L104.0,97.4 L104.5,98.1 L105.0,98.7 L105.5,99.3 L106.0,99.9 L106.5,100.5 L107.0,101.1 L107.5,101.7 L108.0,102.3 L108.5,102.9 L109.0,103.5 L109.5,104.1 L110.0,104.7 L110.5,105.3 L111.0,105.9 L111.5,106.5 L112.0,107.0 L112.5,107.6 L113.0,108.2 L113.5,108.8 L114.0,109.4 L114.5,110.0 L115.0,110.5 L115.5,111.1 L116.0,111.7 L116.5,112.2 L117.0,112.8 L117.5,113.3 L118.0,113.8 L118.5,114.3 L119.0,114.8 L119.5,115.3 L120.0,115.8 L120.5,116.3 L121.0,116.8 L121.5,117.3 L122.0,117.8 L122.5,118.2 L123.0,118.7 L123.5,119.2 L124.0,119.7 L124.5,120.2 L125.0,120.7 L125.5,121.2 L126.0,121.7 L126.5,122.2 L127.0,122.7 L127.5,123.2 L128.0,123.6 L128.5,124.1 L129.0,124.6 L129.5,125.1 L130.0,125.6 L130.5,126.0 L131.0,126.5 L131.5,126.9 L132.0,127.4 L132.5,127.8 L133.0,128.3 L133.5,128.7 L134.0,129.2 L134.5,129.6 L135.0,130.1 L135.5,130.5 L136.0,130.9 L136.5,131.3 L137.0,131.7 L137.5,132.1 L138.0,132.5 L138.5,132.9 L139.0,133.2 L139.5,133.6 L140.0,134.0 L140.5,134.3 L141.0,134.7 L141.5,135.0 L142.0,135.3 L142.5,135.7 L143.0,136.0 L143.5,136.3 L144.0,136.6 L144.5,137.0 L145.0,137.3 L145.5,137.6 L146.0,137.9 L146.5,138.2 L147.0,138.5 L147.5,138.9 L148.0,139.2 L148.5,139.5 L149.0,139.8 L149.5,140.1 L150.0,140.4 L150.5,140.7 L151.0,141.0 L151.5,141.2 L152.0,141.5 L152.5,141.8 L153.0,142.1 L153.5,142.3 L154.0,142.6 L154.5,142.8 L155.0,143.1 L155.5,143.3 L156.0,143.6 L156.5,143.8 L157.0,144.1 L157.5,144.3 L158.0,144.5 L158.5,144.8 L159.0,145.0 L159.5,145.2 L160.0,145.5 L160.5,145.7 L161.0,145.9 L161.5,146.2 L162.0,146.4 L162.5,146.7 L163.0,146.9 L163.5,147.1 L164.0,147.4 L164.5,147.6 L165.0,147.8 L165.5,148.1 L166.0,148.3 L166.5,148.5 L167.0,148.7 L167.5,149.0 L168.0,149.2 L168.5,149.4 L169.0,149.6 L169.5,149.7 L170.0,149.9 L170.5,150.1 L171.0,150.3 L171.5,150.5 L172.0,150.7 L172.5,150.8 L173.0,151.0 L173.5,151.2 L174.0,151.4 L174.5,151.5 L175.0,151.7 L175.5,151.9 L176.0,152.0 L176.5,152.2 L177.0,152.3 L177.5,152.5 L178.0,152.6 L178.5,152.8 L179.0,152.9 L179.5,153.1 L180.0,153.2 L180.5,153.3 L181.0,153.5 L181.5,153.6 L182.0,153.7 L182.5,153.9 L183.0,154.0 L183.5,154.1 L184.0,154.3 L184.5,154.4 L185.0,154.5 L185.5,154.6 L186.0,154.8 L186.5,154.9 L187.0,155.0 L187.5,155.1 L188.0,155.2 L188.5,155.3 L189.0,155.4 L189.5,155.6 L190.0,155.7 L190.5,155.8 L191.0,155.9 L191.5,156.0 L192.0,156.1 L192.5,156.2 L193.0,156.3 L193.5,156.4 L194.0,156.5 L194.5,156.6 L195.0,156.7 L195.5,156.7 L196.0,156.8 L196.5,156.9 L197.0,157.0 L197.5,157.1 L198.0,157.2 L198.5,157.3 L199.0,157.4 L199.5,157.4 L200.0,157.5 L200.5,157.6 L201.0,157.7 L201.5,157.8 L202.0,157.8 L202.5,157.9 L203.0,158.0 L203.5,158.1 L204.0,158.1 L204.5,158.2 L205.0,158.3 L205.5,158.3 L206.0,158.4 L206.5,158.5 L207.0,158.5 L207.5,158.6 L208.0,158.7 L208.5,158.7 L209.0,158.8 L209.5,158.8 L210.0,158.9 L210.5,158.9 L211.0,159.0 L211.5,159.0 L212.0,159.1 L212.5,159.2 L213.0,159.2 L213.5,159.3 L214.0,159.3 L214.5,159.4 L215.0,159.4 L215.5,159.5 L216.0,159.5 L216.5,159.6 L217.0,159.6 L217.5,159.7 L218.0,159.7 L218.5,159.8 L219.0,159.8 L219.5,159.8 L220.0,159.9 L220.5,159.9 L221.0,159.9 L221.5,159.9 L222.0,160.0 L222.5,160.0 L223.0,160.0 L223.5,160.0 L224.0,160.0 L224.5,160.0 L225.0,160.0 L225.5,160.0 L226.0,160.0 L226.5,160.0 L227.0,160.0 L227.5,160.0 L228.0,159.9 L228.5,159.9 L229.0,159.9 L229.5,159.9 L230.0,159.9 L230.5,159.9 L231.0,159.8 L231.5,159.8 L232.0,159.8 L232.5,159.8 L233.0,159.8 L233.5,159.7 L234.0,159.7 L234.5,159.7 L235.0,159.7 L235.5,159.6 L236.0,159.6 L236.5,159.6 L237.0,159.6 L237.5,159.5 L238.0,159.5 L238.5,159.5 L239.0,159.5 L239.5,159.4 L240.0,159.4 L240.5,159.4 L241.0,159.3 L241.5,159.3 L242.0,159.3 L242.5,159.2 L243.0,159.2 L243.5,159.2 L244.0,159.1 L244.5,159.1 L245.0,159.1 L245.5,159.0 L246.0,159.0 L246.5,158.9 L247.0,158.9 L247.5,158.8 L248.0,158.8 L248.5,158.8 L249.0,158.7 L249.5,158.7 L250.0,158.6 L250.5,158.6 L251.0,158.5 L251.5,158.5 L252.0,158.4 L252.5,158.3 L253.0,158.3 L253.5,158.2 L254.0,158.2 L254.5,158.1 L255.0,158.1 L255.5,158.0 L256.0,157.9 L256.5,157.9 L257.0,157.8 L257.5,157.7 L258.0,157.7 L258.5,157.6 L259.0,157.5 L259.5,157.5 L260.0,157.4 L260.5,157.3 L261.0,157.2 L261.5,157.2 L262.0,157.1 L262.5,157.0 L263.0,156.9 L263.5,156.8 L264.0,156.8 L264.5,156.7 L265.0,156.6 L265.5,156.5 L266.0,156.4 L266.5,156.4 L267.0,156.3 L267.5,156.2 L268.0,156.1 L268.5,156.0 L269.0,155.9 L269.5,155.8 L270.0,155.8 L270.5,155.7 L271.0,155.6 L271.5,155.5 L272.0,155.4 L272.5,155.3 L273.0,155.2 L273.5,155.1 L274.0,155.0 L274.5,154.9 L275.0,154.8 L275.5,154.7 L276.0,154.6 L276.5,154.5 L277.0,154.4 L277.5,154.3 L278.0,154.2 L278.5,154.1 L279.0,154.0 L279.5,153.9 L280.0,153.8 L280.5,153.7 L281.0,153.6 L281.5,153.5 L282.0,153.3 L282.5,153.2 L283.0,153.1 L283.5,153.0 L284.0,152.9 L284.5,152.8 L285.0,152.7 L285.5,152.5 L286.0,152.4 L286.5,152.3 L287.0,152.2 L287.5,152.1 L288.0,151.9 L288.5,151.8 L289.0,151.7 L289.5,151.6 L290.0,151.5 L290.5,151.3 L291.0,151.2 L291.5,151.1 L292.0,151.0 L292.5,150.8 L293.0,150.7 L293.5,150.6 L294.0,150.4 L294.5,150.3 L295.0,150.2 L295.5,150.1 L296.0,149.9 L296.5,149.8 L297.0,149.7 L297.5,149.5 L298.0,149.4 L298.5,149.3 L299.0,149.1 L299.5,149.0 L300.0,148.9 L300.5,148.7 L301.0,148.6 L301.5,148.4 L302.0,148.3 L302.5,148.2 L303.0,148.0 L303.5,147.9 L304.0,147.7 L304.5,147.6 L305.0,147.5 L305.5,147.3 L306.0,147.2 L306.5,147.0 L307.0,146.9 L307.5,146.7 L308.0,146.6 L308.5,146.4 L309.0,146.3 L309.5,146.2 L310.0,146.0 L310.5,145.9 L311.0,145.7 L311.5,145.6 L312.0,145.4 L312.5,145.3 L313.0,145.1 L313.5,144.9 L314.0,144.8 L314.5,144.6 L315.0,144.5 L315.5,144.3 L316.0,144.2 L316.5,144.0 L317.0,143.9 L317.5,143.7 L318.0,143.5 L318.5,143.4 L319.0,143.2 L319.5,143.1 L320.0,142.9 L320.5,142.7 L321.0,142.6 L321.5,142.4 L322.0,142.2 L322.5,142.1 L323.0,141.9 L323.5,141.7 L324.0,141.6 L324.5,141.4 L325.0,141.2 L325.5,141.1 L326.0,140.9 L326.5,140.7 L327.0,140.6 L327.5,140.4 L328.0,140.2 L328.5,140.1 L329.0,139.9 L329.5,139.7 L330.0,139.5 L330.5,139.3 L331.0,139.2 L331.5,139.0 L332.0,138.8 L332.5,138.6 L333.0,138.4 L333.5,138.2 L334.0,138.0 L334.5,137.8 L335.0,137.6 L335.5,137.4 L336.0,137.2 L336.5,137.0 L337.0,136.8 L337.5,136.6 L338.0,136.4 L338.5,136.2 L339.0,136.0 L339.5,135.8 L340.0,135.6 L340.5,135.4 L341.0,135.2 L341.5,135.0 L342.0,134.8 L342.5,134.6 L343.0,134.4 L343.5,134.2 L344.0,134.0 L344.5,133.8 L345.0,133.6 L345.5,133.4 L346.0,133.2 L346.5,132.9 L347.0,132.7 L347.5,132.5 L348.0,132.3 L348.5,132.1 L349.0,131.9 L349.5,131.7 L350.0,131.5 L350.5,131.3 L351.0,131.1 L351.5,130.9 L352.0,130.7 L352.5,130.5 L353.0,130.3 L353.5,130.1 L354.0,129.8 L354.5,129.6 L355.0,129.4 L355.5,129.2 L356.0,129.0 L356.5,128.8 L357.0,128.6 L357.5,128.4 L358.0,128.2 L358.5,128.0 L359.0,127.7 L359.5,127.5 L360.0,127.3 L360.5,127.1 L361.0,126.9 L361.5,126.7 L362.0,126.5 L362.5,126.3 L363.0,126.0 L363.5,125.8 L364.0,125.6 L364.5,125.4 L365.0,125.2 L365.5,125.0 L366.0,124.7 L366.5,124.5 L367.0,124.3 L367.5,124.1 L368.0,123.9 L368.5,123.7 L369.0,123.5 L369.5,123.2 L370.0,123.0 L370.5,122.8 L371.0,122.6 L371.5,122.4 L372.0,122.1 L372.5,121.9 L373.0,121.7 L373.5,121.5 L374.0,121.3 L374.5,121.1 L375.0,120.8 L375.5,120.6 L376.0,120.4 L376.5,120.2 L377.0,120.0 L377.5,119.7 L378.0,119.5 L378.5,119.3 L379.0,119.1 L379.5,118.9 L380.0,118.7 L380.5,118.4 L381.0,118.2 L381.5,118.0 L382.0,117.8 L382.5,117.6 L383.0,117.3 L383.5,117.1 L384.0,116.9 L384.5,116.7 L385.0,116.4 L385.5,116.2 L386.0,116.0 L386.5,115.8 L387.0,115.5 L387.5,115.3 L388.0,115.1 L388.5,114.9 L389.0,114.7 L389.5,114.4 L390.0,114.2 L390.5,114.0 L391.0,113.8 L391.5,113.5 L392.0,113.3 L392.5,113.1 L393.0,112.9 L393.5,112.6 L394.0,112.4" stroke="#0f8bff" stroke-dasharray="6.51 2.45 6.62 2.45 6.69 2.45 6.65 2.45 6.52 2.45 6.59 2.45 6.65 2.45 6.69 2.45 6.86 2.45 6.84 2.45 6.69 2.45 6.68 2.45 6.53 2.45 6.48 2.45 6.57 2.45 6.67 2.45 6.72 2.45 6.73 2.45 6.68 2.45 6.69 2.45 6.66 2.45 6.54 2.45 6.48 2.45 6.38 2.45 6.26 2.45 6.36 2.45 6.44 2.45 6.49 2.45 6.44 2.45 6.47 2.45 6.27 2.45 6.33 2.45 6.47 2.45 6.71 2.45 6.86 2.45 7.01 2.45 7.01 2.45 6.85 2.45 6.72 2.45 6.62 2.45 1000.00 0.00"/>
</g>
<g font-family="Liberation Sans, sans-serif" font-size="16.4" fill="#000" stroke="#000" stroke-width="0.25">
<text x="56.5" y="254.5" text-anchor="middle">0</text>
<text x="123.7" y="254.5" text-anchor="middle">20</text>
<text x="190.9" y="254.5" text-anchor="middle">40</text>
<text x="258.1" y="254.5" text-anchor="middle">60</text>
<text x="325.3" y="254.5" text-anchor="middle">80</text>
<text x="392.5" y="254.5" text-anchor="middle" letter-spacing="-0.9">100</text>
<text x="46.3" y="242.9" text-anchor="end">0</text>
<text x="46.3" y="186.2" text-anchor="end">10</text>
<text x="46.3" y="129.4" text-anchor="end">20</text>
<text x="46.3" y="72.7" text-anchor="end">30</text>
<text x="46.3" y="15.9" text-anchor="end">40</text>
<text transform="translate(14.2,124.7) rotate(-90)" text-anchor="middle" font-size="16.5">Synchronization level</text>
<text x="193.0" y="281.4" font-size="15.5">t−n(<tspan font-style="italic">T</tspan><tspan font-style="italic" font-size="11.5" dy="2.5">d</tspan><tspan dy="-2.5" dx="1.4">+1)</tspan></text>
</g>
<g fill="none">
<path d="M344.2,139.5 H371.0" stroke="#000" stroke-width="1.3"/>
<path d="M344.2,157.35 H371.0" stroke="#b80000" stroke-width="1.25" stroke-dasharray="21.8 1.5"/>
<path d="M344.2,174.8 H371.0" stroke="#ff1414" stroke-width="2" stroke-dasharray="14.7 1.7"/>
<path d="M344.2,192.4 H371.0" stroke="#870a8c" stroke-width="1.3" stroke-dasharray="11.4 1.4"/>
<path d="M344.2,210.35 H371.0" stroke="#1a0085" stroke-width="1.5" stroke-dasharray="7.9 1.5"/>
<path d="M344.2,228.1 H371.0" stroke="#0f8bff" stroke-width="2" stroke-dasharray="3.9 1.6"/>
</g>
<g font-family="Liberation Sans, sans-serif" font-size="9.3" fill="#000" stroke="#000" stroke-width="0.2">
<text x="375.7" y="142.3">n=0</text>
<text x="375.7" y="160.4">n=10</text>
<text x="375.7" y="177.8">n=20</text>
<text x="375.7" y="195.5">n=30</text>
<text x="375.7" y="213.4">n=40</text>
<text x="375.7" y="231.2">n=50</text>
</g>
</svg>
</body></html>
